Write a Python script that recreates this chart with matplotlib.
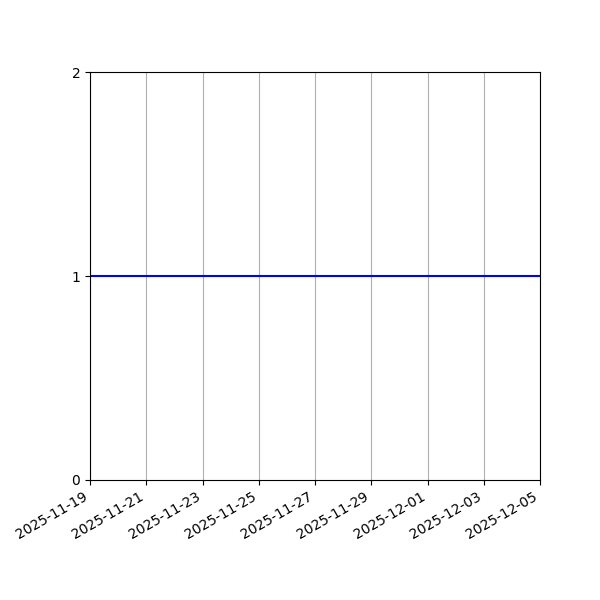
import numpy as np
import pandas as pd
import matplotlib
matplotlib.use('Agg')
import matplotlib.pyplot as plt
import matplotlib.dates as mdates

# flat series, one value per day
dates = pd.date_range('2025-11-19', '2025-12-05', freq='D')
values = [1] * len(dates)

fig, ax = plt.subplots(figsize=(6, 6), dpi=100)
ax.plot(dates, values, color='blue')
ax.set_xlim(dates[0], dates[-1])
ax.set_ylim(0, 2)
ax.set_yticks([0, 1, 2])
ax.xaxis.set_major_locator(mdates.DayLocator(interval=2))
ax.xaxis.set_major_formatter(mdates.DateFormatter('%Y-%m-%d'))
ax.grid(axis='x', color='#b0b0b0')
fig.autofmt_xdate()
fig.subplots_adjust(left=0.15, right=0.9, top=0.88, bottom=0.2)
fig.savefig('out.png')
